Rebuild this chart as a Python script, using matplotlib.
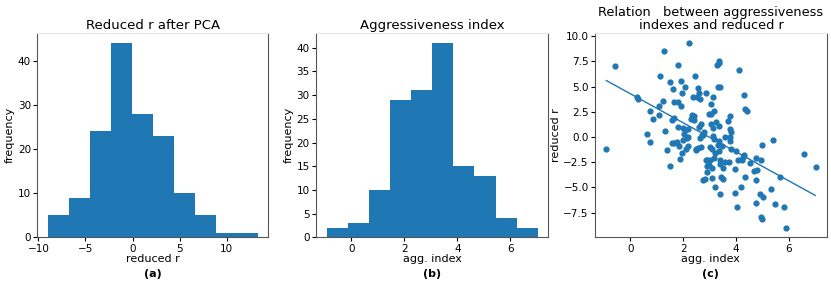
import numpy as np
import matplotlib
matplotlib.use('Agg')
import matplotlib.pyplot as plt

# Histogramm (a): reduced r
r_edges = np.linspace(-9.0, 13.3, 11)
r_counts = [5, 9, 24, 44, 28, 23, 10, 5, 1, 1]

# Histogramm (b): agg. index
agg_edges = np.linspace(-0.94, 7.04, 11)
agg_counts = [2, 3, 10, 29, 31, 41, 15, 13, 4, 2]

# Scatter (c)
agg_idx = [-0.94, -0.58, 0.25, 0.275, 0.63, 0.73, 0.73, 0.84, 1.09, 1.075,
           1.12, 1.3, 1.275, 1.25, 1.4,
           1.49, 1.58, 1.66, 1.51, 1.6, 1.59, 1.67, 1.67, 1.8, 1.82,
           1.82, 1.85, 1.9, 1.9, 1.95, 1.89, 1.95, 2.0, 2.0, 2.05,
           2.08, 2.1, 2.18, 2.17, 2.22, 1.75, 2.14, 2.04, 2.2,
           2.32, 2.3, 2.37, 2.42, 2.45, 2.5, 2.54, 2.57, 2.6, 2.65,
           2.66, 2.62, 2.69, 2.71, 2.78, 2.76, 2.84, 2.85, 2.87, 2.9,
           2.92, 2.96, 3.03, 3.0, 2.98, 2.48, 2.56, 2.91, 2.75, 2.4, 2.58,
           3.05, 3.06, 3.06, 3.1, 3.12, 3.12, 3.14, 3.16, 3.16, 3.1,
           3.22, 3.28, 3.32, 3.35, 3.37, 3.34, 3.35, 3.36, 3.4, 3.39,
           3.4, 3.42, 3.4, 3.46, 3.5, 3.5, 3.57, 3.7, 3.74, 3.77,
           3.77, 3.79, 3.79, 3.8, 3.8, 3.09, 3.2, 3.25, 3.3, 3.6, 3.15,
           3.95, 4.0, 3.98, 4.05, 4.06, 4.12, 4.2, 4.22, 4.29, 4.31,
           4.34, 4.35, 4.42, 4.52, 4.25,
           4.69, 4.75, 4.76, 4.77, 4.81, 4.92, 4.96, 4.95, 4.97, 5.0,
           5.02, 5.34, 5.39,
           5.47, 5.65, 5.81, 5.9,
           6.57, 7.04]
red_r = [-1.22, 7.0, 3.96, 3.73, 0.3, 2.6, -0.5, 1.8, 3.04, 2.15,
         6.1, 0.6, 8.58, 3.56, -1.25,
         -2.84, -0.6, -0.55, 5.47, 4.75, 1.65, 1.85, 3.5, 3.5, 7.1,
         1.03, -0.92, 3.04, 5.55, 4.36, -2.17, -1.58, 0.93, -0.32, 5.0,
         0.67, -1.15, 0.0, -0.92, 9.37, -0.5, -0.15, 0.3, 0.75,
         2.15, 1.82, 3.97, 1.72, 6.03, -1.15, 3.97, 4.89, 4.4, 3.73,
         1.32, -0.07, -0.99, 0.16, 0.46, -4.29, -4.22, -2.24, 4.4, -2.9,
         -3.46, 2.31, -0.99, -2.24, -2.8, -1.25, -1.12, -2.3, 0.2, 2.1, 1.0,
         3.23, 2.31, 1.32, -4.12, 0.13, 3.97, 0.93, -2.11, -0.17, -1.19,
         -5.0, 7.13, 4.95, 7.39, 7.5, 1.06, -0.4, -1.38, 5.0, -2.31,
         -2.7, -3.96, -5.67, -0.92, -3.13, -4.22, 0.0, 1.59, -2.44, 2.12,
         0.8, 0.0, -0.4, 0.46, -1.15, -3.05, -1.6, 1.5, -0.8, -2.5, 2.6,
         -3.17, -1.39, -5.53, -6.92, -2.24, 6.6, -4.96, -2.24, 4.13, -1.81,
         -4.02, 2.81, 2.55, -2.57, -2.0,
         -3.36, -6.6, -4.29, -2.04, -3.3, -5.67, -2.31, -7.98, -8.18, -0.83,
         -5.93, -5.2, -0.33,
         -6.63, -3.96, -6.99, -9.04,
         -1.71, -3.03]

# Regressionsgerade (Endpunkte)
fit_x = [-0.91, 7.0]
fit_y = [5.6, -5.8]

blue = '#1f77b4'
plt.rcParams['font.family'] = 'DejaVu Sans'

fig = plt.figure(figsize=(8.31, 2.82), dpi=100)
axA = fig.add_axes([0.0449, 0.1585, 0.278, 0.7234])
axB = fig.add_axes([0.3803, 0.1585, 0.2795, 0.7234])
axC = fig.add_axes([0.716, 0.1585, 0.279, 0.7234])

axA.hist(r_edges[:-1], bins=r_edges, weights=r_counts, color=blue)
axA.set_title("Reduced r after PCA", fontsize=9.5, pad=3)
axA.set_xlabel("reduced r", fontsize=8, labelpad=0)
axA.set_ylabel("frequency", fontsize=8, labelpad=2)

axB.hist(agg_edges[:-1], bins=agg_edges, weights=agg_counts, color=blue)
axB.set_title("Aggressiveness index", fontsize=9.5, pad=3)
axB.set_xlabel("agg. index", fontsize=8, labelpad=0)
axB.set_ylabel("frequency", fontsize=8, labelpad=2)

axC.scatter(agg_idx, red_r, s=12, color=blue)
axC.plot(fit_x, fit_y, color=blue, lw=1)
axC.set_title("Relation   between aggressiveness\nindexes and reduced r", fontsize=9.3, pad=3, linespacing=1.0)
axC.set_xlabel("agg. index", fontsize=8, labelpad=0)
axC.set_ylabel("reduced r", fontsize=8, labelpad=2)

for ax, lab in zip([axA, axB, axC], ["(a)", "(b)", "(c)"]):
    ax.tick_params(labelsize=7.5, length=3, pad=1.5)
    for s in ax.spines.values():
        s.set_color('#555555')
    ax.spines['top'].set_color('#e6e6e6')
    ax.text(0.5, -0.18, lab, transform=ax.transAxes, ha='center', va='center',
            fontsize=8, fontweight='bold')

fig.savefig("out.png", dpi=100)
